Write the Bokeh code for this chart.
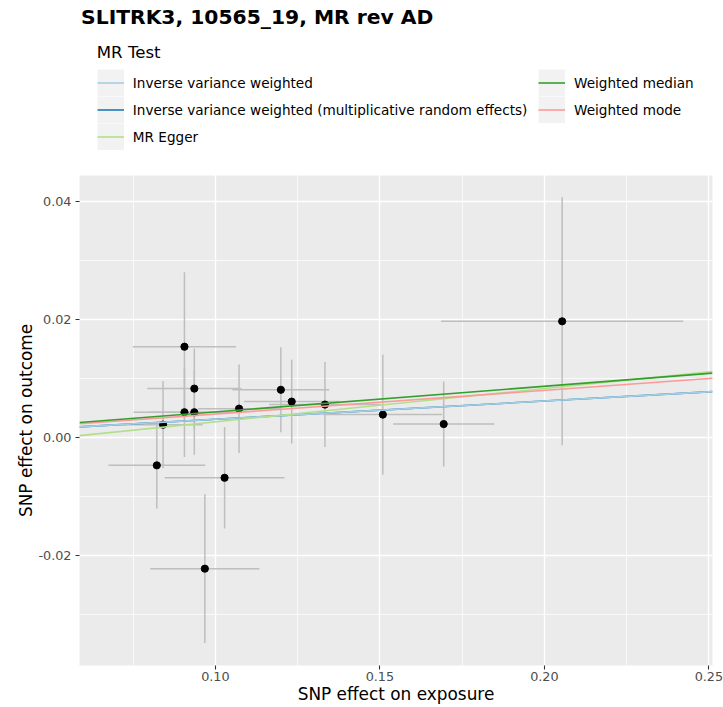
import numpy as np
from bokeh.plotting import figure
from bokeh.models import (Range1d, FixedTicker, Legend, LegendItem, Label, BoxAnnotation,
                          Title, CustomJSTickFormatter)
from bokeh.embed import file_html
from bokeh.resources import INLINE

# ---- data ----
beta_exposure = [0.0906, 0.0936, 0.0906, 0.0936, 0.0841, 0.0822, 0.1028, 0.0968,
                 0.1072, 0.1199, 0.1232, 0.1333, 0.1509, 0.1694, 0.2054]
beta_outcome = [0.0154, 0.0083, 0.0043, 0.0043, 0.0022, -0.0047, -0.0068, -0.0222,
                0.0049, 0.0081, 0.0061, 0.0056, 0.0039, 0.0023, 0.0197]
se_exposure = [0.0157, 0.0143, 0.0155, 0.0140, 0.0120, 0.0147, 0.0182, 0.0166,
               0.0125, 0.0147, 0.0145, 0.0170, 0.0180, 0.0154, 0.0368]
se_outcome = [0.0126, 0.0068, 0.0076, 0.0072, 0.0074, 0.0073, 0.0086, 0.0126,
              0.0075, 0.0072, 0.0071, 0.0072, 0.0102, 0.0072, 0.0210]

methods = ["Inverse variance weighted",
           "Inverse variance weighted (multiplicative random effects)",
           "MR Egger", "Weighted median", "Weighted mode"]
intercepts = [0.0, 0.0, -0.00297, 0.0, 0.0]
slopes = [0.0310, 0.0310, 0.0564, 0.0435, 0.0400]
method_colors = ["#a6cee3", "#1f78b4", "#b2df8a", "#33a02c", "#fb9a99"]
draw_order = [1, 0, 2, 4, 3]

x_ticks = [0.10, 0.15, 0.20, 0.25]
x_tick_labels = ["0.10", "0.15", "0.20", "0.25"]
x_minor = [0.075, 0.125, 0.175, 0.225]
y_ticks = [-0.02, 0.00, 0.02, 0.04]
y_tick_labels = ["-0.02", "0.00", "0.02", "0.04"]
y_minor = [-0.03, -0.01, 0.01, 0.03]

title_text = "SLITRK3, 10565_19, MR rev AD"
legend_title = "MR Test"
x_title = "SNP effect on exposure"
y_title = "SNP effect on outcome"

# panel limits
x_lo, x_hi = 0.0587, 0.2511
y_lo, y_hi = -0.0386, 0.0444

FONT = "DejaVu Sans"

# ---- layout geometry (pixels) ----
W, H = 723, 707
BORDER_BOTTOM = 42
FRAME_H = H - BORDER_BOTTOM          # frame spans from canvas top to the panel bottom
PANEL_H = 490                        # height of the grey data panel
units_per_px = (y_hi - y_lo) / PANEL_H
y_frame_top = y_lo + FRAME_H * units_per_px   # frame also holds the title/legend strip
x_span = x_hi - x_lo
y_span = y_frame_top - y_lo

p = figure(width=W, height=H, output_backend="svg", toolbar_location=None,
           title=None,
           x_range=Range1d(x_lo, x_hi), y_range=Range1d(y_lo, y_frame_top),
           min_border_left=79, min_border_right=11,
           min_border_top=0, min_border_bottom=BORDER_BOTTOM)
p.background_fill_color = "white"
p.border_fill_color = "white"
p.outline_line_color = None

# grey data panel (drawn below the grid)
p.add_layout(BoxAnnotation(bottom=y_lo - y_span, top=y_hi, left=x_lo - x_span, right=x_hi + x_span,
                           fill_color="#ebebeb", fill_alpha=1.0, line_color=None, level="image"))

# grid
p.xgrid.ticker = FixedTicker(ticks=x_ticks, minor_ticks=x_minor)
p.ygrid.ticker = FixedTicker(ticks=y_ticks, minor_ticks=y_minor)
for g in (p.xgrid, p.ygrid):
    g.grid_line_color = "white"
    g.grid_line_width = 1.4
    g.minor_grid_line_color = "white"
    g.minor_grid_line_width = 0.7

fmt_code = """
let best = 0;
for (let i = 0; i < tvals.length; i++) {
  if (Math.abs(tvals[i] - tick) < Math.abs(tvals[best] - tick)) best = i;
}
return tlabels[best];
"""
p.xaxis.ticker = FixedTicker(ticks=x_ticks)
p.yaxis.ticker = FixedTicker(ticks=y_ticks)
p.xaxis.formatter = CustomJSTickFormatter(args=dict(tvals=x_ticks, tlabels=x_tick_labels), code=fmt_code)
p.yaxis.formatter = CustomJSTickFormatter(args=dict(tvals=y_ticks, tlabels=y_tick_labels), code=fmt_code)
p.yaxis.bounds = (y_lo, y_hi)
p.xaxis.axis_label = x_title
for ax in (p.xaxis, p.yaxis):
    ax.axis_line_color = None
    ax.major_tick_line_color = "#333333"
    ax.major_tick_line_width = 1.1
    ax.major_tick_out = 4
    ax.major_tick_in = 0
    ax.minor_tick_line_color = None
    ax.major_label_text_font = FONT
    ax.major_label_text_font_size = "12.8px"
    ax.major_label_text_color = "#4d4d4d"
    ax.axis_label_text_font = FONT
    ax.axis_label_text_font_size = "16.9px"
    ax.axis_label_text_font_style = "normal"
    ax.axis_label_text_color = "black"
    ax.axis_label_standoff = 0
p.xaxis.major_label_standoff = 2
p.yaxis.major_label_standoff = 4

# y-axis title, centred on the grey panel rather than on the whole frame
Y_TITLE_LEN = 193                    # approx. rendered length of the y title in px
panel_centre_px = FRAME_H - PANEL_H / 2
p.add_layout(Title(text=y_title, align="left",
                   offset=FRAME_H - (panel_centre_px + Y_TITLE_LEN / 2),
                   standoff=0, text_font=FONT, text_font_size="16.9px",
                   text_font_style="normal", text_color="black"), "left")

# error bars and points
bx = np.array(beta_exposure)
by = np.array(beta_outcome)
sx = np.array(se_exposure)
sy = np.array(se_outcome)
p.segment(x0=bx, y0=by - sy, x1=bx, y1=by + sy, line_color="#bebebe", line_width=1.5)
p.segment(x0=bx - sx, y0=by, x1=bx + sx, y1=by, line_color="#bebebe", line_width=1.5)
p.scatter(bx, by, size=7.2, fill_color="black", line_color="black")

# MR fit lines
xs = np.array([x_lo, x_hi])
line_r = {}
for i in draw_order:
    line_r[i] = p.line(xs, intercepts[i] + slopes[i] * xs, line_color=method_colors[i], line_width=1.6)

# grey legend key background: a one-point line draws nothing in the plot, only in the legend
key_bg = p.line(x=[np.nan], y=[np.nan], line_color="#f2f2f2", line_width=27)

items = [LegendItem(label=methods[i], renderers=[key_bg, line_r[i]]) for i in range(len(methods))]

common = dict(orientation="vertical", glyph_width=27, glyph_height=27, spacing=0,
              label_standoff=9, padding=0, margin=0, border_line_color=None,
              background_fill_alpha=0, label_text_font=FONT, label_text_font_size="13.6px",
              label_text_color="black", label_height=20)
ROW = 27
keys_top = 69
legA = Legend(items=items[:3], location=(96.8 - 79, FRAME_H - (keys_top + 3 * ROW)),
              title=legend_title, title_text_font=FONT, title_text_font_size="16.6px",
              title_text_font_style="normal", title_text_color="black", title_standoff=7,
              **common)
legB = Legend(items=items[3:], location=(538 - 79, FRAME_H - (keys_top + 2 * ROW)), **common)
p.add_layout(legA)
p.add_layout(legB)

p.add_layout(Label(x=1.6, y=FRAME_H - 16.7, x_units="screen", y_units="screen",
                   text=title_text, text_font=FONT, text_font_size="20.3px",
                   text_font_style="bold", text_color="black", text_baseline="middle"))

open("out.html", "w").write(file_html(p, INLINE))
